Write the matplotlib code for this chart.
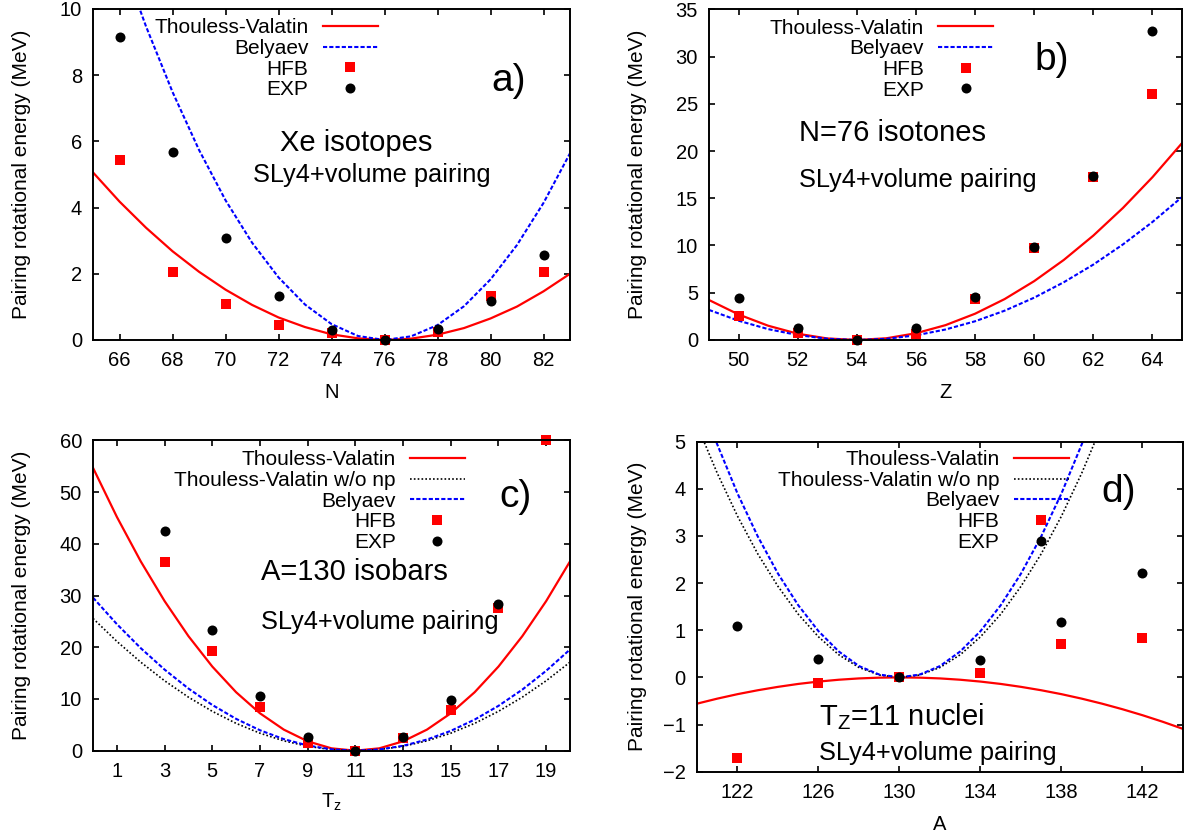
import numpy as np
import matplotlib.pyplot as plt

plt.rcParams['font.family'] = ['Liberation Sans', 'DejaVu Sans']
plt.rcParams['mathtext.fontset'] = 'custom'
plt.rcParams['mathtext.rm'] = 'Liberation Sans'
plt.rcParams['mathtext.it'] = 'Liberation Sans:italic'

# ---- a) Xe isotopes ----
a_n = [66, 68, 70, 72, 74, 76, 78, 80, 82]
a_hfb = [5.45, 2.06, 1.08, 0.45, 0.20, 0.0, 0.25, 1.34, 2.06]
a_exp = [9.15, 5.68, 3.09, 1.33, 0.30, 0.0, 0.32, 1.18, 2.57]
a_grid = list(range(65, 84))
a_tv = [5.06, 4.18, 3.39, 2.68, 2.06, 1.52, 1.06, 0.68, 0.39, 0.17,
        0.05, 0.00, 0.04, 0.16, 0.36, 0.65, 1.01, 1.47, 2.00]
a_bel = [14.13, 11.68, 9.47, 7.49, 5.74, 4.22, 2.94, 1.89, 1.07, 0.48,
         0.12, 0.00, 0.11, 0.45, 1.02, 1.83, 2.87, 4.14, 5.64]

# ---- b) N=76 isotones ----
b_z = [50, 52, 54, 56, 58, 60, 62, 64]
b_hfb = [2.54, 0.78, 0.0, 0.64, 4.30, 9.70, 17.30, 26.00]
b_exp = [4.48, 1.23, 0.0, 1.23, 4.59, 9.88, 17.36, 32.75]
b_grid = list(range(49, 66))
b_tv = [4.23, 2.70, 1.51, 0.66, 0.16, 0.00, 0.18, 0.71, 1.57, 2.78,
        4.33, 6.23, 8.47, 11.05, 13.97, 17.23, 20.84]
b_bel = [3.18, 2.04, 1.15, 0.52, 0.13, 0.00, 0.12, 0.49, 1.11, 1.98,
         3.10, 4.48, 6.11, 7.98, 10.11, 12.49, 15.13]

# ---- c) A=130 isobars ----
c_tz_hfb = [3, 5, 7, 9, 11, 13, 15, 17, 19]
c_hfb = [36.4, 19.35, 8.4, 1.55, 0.0, 2.4, 7.9, 27.6, 60.0]
c_tz_exp = [3, 5, 7, 9, 11, 13, 15, 17]
c_exp = [42.5, 23.3, 10.5, 2.7, 0.0, 2.6, 9.84, 28.4]
c_grid = list(range(0, 21))
c_tv = [54.69, 45.20, 36.61, 28.93, 22.15, 16.27, 11.30, 7.23, 4.07, 1.81,
        0.45, 0.00, 0.45, 1.81, 4.07, 7.23, 11.30, 16.27, 22.15, 28.93, 36.61]
c_tv_nonp = [25.57, 21.13, 17.12, 13.52, 10.35, 7.61, 5.28, 3.38, 1.90, 0.85,
             0.21, 0.00, 0.21, 0.85, 1.90, 3.38, 5.28, 7.61, 10.35, 13.52, 17.12]
c_bel = [29.59, 24.47, 19.83, 15.68, 12.02, 8.84, 6.15, 3.95, 2.23, 1.00,
         0.26, 0.00, 0.23, 0.94, 2.15, 3.83, 6.01, 8.67, 11.81, 15.45, 19.57]

# ---- d) Tz=11 nuclei ----
d_a = [122, 126, 130, 134, 138, 142]
d_hfb = [-1.70, -0.11, 0.0, 0.10, 0.71, 0.84]
d_exp = [1.08, 0.39, 0.0, 0.36, 1.17, 2.21]
d_grid = list(range(120, 145))
d_tv = [-0.557, -0.451, -0.356, -0.273, -0.201, -0.139, -0.089, -0.050, -0.022,
        -0.006, 0.0, -0.006, -0.022, -0.050, -0.089, -0.139, -0.201, -0.273,
        -0.356, -0.451, -0.557, -0.674, -0.802, -0.941, -1.092]
d_grid_short = list(range(120, 141))
d_tv_nonp = [5.35, 4.33, 3.42, 2.62, 1.93, 1.34, 0.86, 0.48, 0.21, 0.05, 0.0,
             0.05, 0.21, 0.48, 0.86, 1.34, 1.93, 2.62, 3.42, 4.33, 5.35]
d_bel = [6.10, 4.94, 3.90, 2.99, 2.20, 1.53, 0.98, 0.55, 0.24, 0.06, 0.0,
         0.06, 0.24, 0.55, 0.98, 1.53, 2.20, 2.99, 3.90, 4.94, 6.10]

YLAB = 'Pairing rotational energy (MeV)'

fig = plt.figure(figsize=(11.9, 8.38), dpi=100)


def setup(ax, xlim, ylim, xticks, yticks):
    ax.set_xlim(*xlim)
    ax.set_ylim(*ylim)
    ax.set_xticks(xticks)
    ax.set_yticks(yticks)
    ax.tick_params(direction='in', length=4.5, width=1.2, top=True, right=True,
                   labelsize=14.5, pad=8)
    for s in ax.spines.values():
        s.set_linewidth(1.4)


def curves(ax, x, tv, bel, x2=None, tv_nonp=None):
    if x2 is None:
        x2 = x
    ax.plot(x, tv, color='#ff0000', lw=1.6, label='Thouless-Valatin')
    if tv_nonp is not None:
        ax.plot(x2, tv_nonp, color='black', lw=1.2, ls=(0, (1, 1.3)),
                label='Thouless-Valatin w/o np')
    ax.plot(x2, bel, color='#0000ff', lw=1.5, ls=(0, (2, 1)), label='Belyaev')


def points(ax, xh, hfb, xe, exp):
    ax.plot(xh, hfb, 's', color='#ff0000', ms=7.2, mew=0, label='HFB', clip_on=False)
    ax.plot(xe, exp, 'o', color='black', ms=7.2, mew=0, label='EXP', clip_on=False)


def key(ax, x, y):
    ax.legend(loc='upper right', bbox_to_anchor=(x, y), frameon=False,
              markerfirst=False, handlelength=2.65, handletextpad=0.68,
              labelspacing=0.08, borderpad=0, borderaxespad=0,
              fontsize=15, numpoints=1)


def labels(ax, xlab, ylx, xly):
    ax.text(0.5, xly, xlab, transform=ax.transAxes, ha='center', va='center',
            fontsize=14.5)
    ax.text(ylx, 0.5, YLAB, transform=ax.transAxes, ha='center', va='center',
            rotation=90, fontsize=15)


# a)
ax = fig.add_axes([0.0782, 0.5943, 0.4008, 0.395])
setup(ax, (65, 83), (0, 10), range(66, 83, 2), range(0, 11, 2))
curves(ax, a_grid, a_tv, a_bel)
points(ax, a_n, a_hfb, a_n, a_exp)
key(ax, 0.597, 0.972)
labels(ax, 'N', -0.151, -0.16)
ax.text(0.835, 0.783, 'a)', transform=ax.transAxes, fontsize=28, va='center')
ax.text(0.392, 0.596, 'Xe isotopes', transform=ax.transAxes, fontsize=21, va='center')
ax.text(0.335, 0.497, 'SLy4+volume pairing', transform=ax.transAxes, fontsize=18.3,
        va='center')

# b)
ax = fig.add_axes([0.5958, 0.5943, 0.3975, 0.3946])
setup(ax, (49, 65), (0, 35), range(50, 65, 2), range(0, 36, 5))
curves(ax, b_grid, b_tv, b_bel)
points(ax, b_z, b_hfb, b_z, b_exp)
key(ax, 0.601, 0.972)
labels(ax, 'Z', -0.152, -0.16)
ax.text(0.689, 0.846, 'b)', transform=ax.transAxes, fontsize=28, va='center')
ax.text(0.190, 0.625, 'N=76 isotones', transform=ax.transAxes, fontsize=21, va='center')
ax.text(0.190, 0.483, 'SLy4+volume pairing', transform=ax.transAxes, fontsize=18.3,
        va='center')

# c)
ax = fig.add_axes([0.0782, 0.1042, 0.4008, 0.3702])
setup(ax, (0, 20), (0, 60), range(1, 20, 2), range(0, 61, 10))
curves(ax, c_grid, c_tv, c_bel, tv_nonp=c_tv_nonp)
points(ax, c_tz_hfb, c_hfb, c_tz_exp, c_exp)
key(ax, 0.78, 0.968)
labels(ax, r'T$_\mathrm{z}$', -0.151, -0.167)
ax.text(0.851, 0.817, 'c)', transform=ax.transAxes, fontsize=28, va='center')
ax.text(0.352, 0.576, 'A=130 isobars', transform=ax.transAxes, fontsize=21, va='center')
ax.text(0.352, 0.415, 'SLy4+volume pairing', transform=ax.transAxes, fontsize=18.3,
        va='center')

# d)
ax = fig.add_axes([0.5857, 0.0791, 0.4084, 0.394])
setup(ax, (120, 144), (-2, 5), range(122, 143, 4), range(-2, 6))
curves(ax, d_grid, d_tv, d_bel, x2=d_grid_short, tv_nonp=d_tv_nonp)
points(ax, d_a, d_hfb, d_a, d_exp)
key(ax, 0.765, 0.974)
labels(ax, 'A', -0.123, -0.16)
ax.text(0.833, 0.846, 'd)', transform=ax.transAxes, fontsize=28, va='center')
ax.text(0.251, 0.166, r'T$_\mathrm{Z}$=11 nuclei', transform=ax.transAxes, fontsize=21,
        va='center')
ax.text(0.251, 0.057, 'SLy4+volume pairing', transform=ax.transAxes, fontsize=18.3,
        va='center')

fig.savefig('out.png', dpi=100)
